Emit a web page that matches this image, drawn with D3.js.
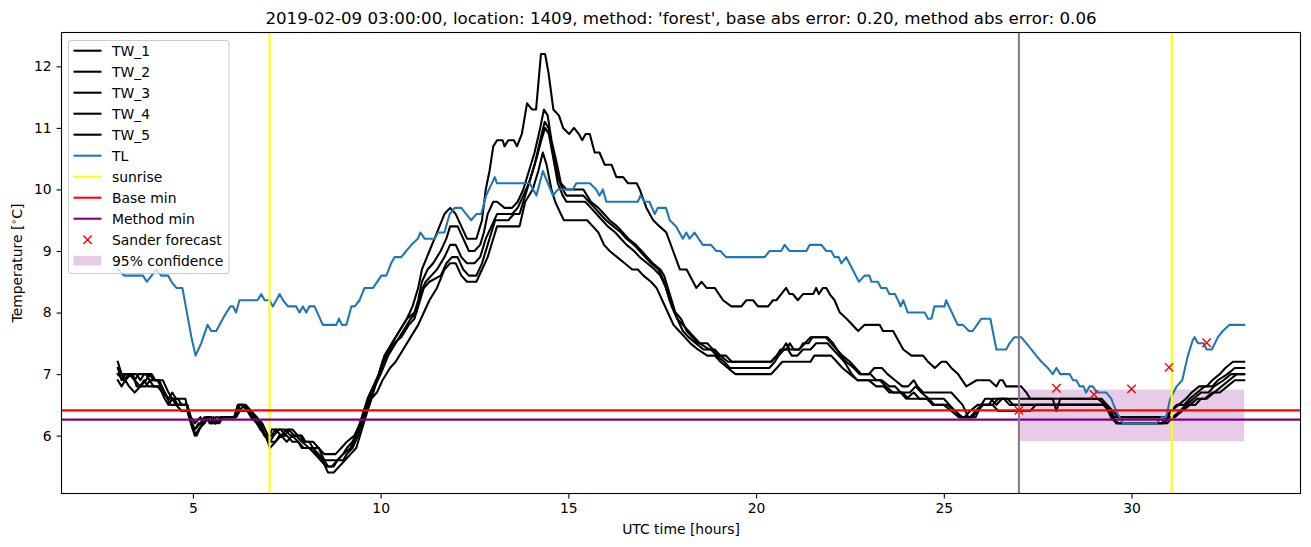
<!DOCTYPE html>
<html>
<head>
<meta charset="utf-8">
<script src="https://cdn.jsdelivr.net/npm/d3@7/dist/d3.min.js"></script>
<style>
  html, body { margin: 0; padding: 0; background: #fff; }
  svg { display: block; font-family: "DejaVu Sans", sans-serif; }
</style>
</head>
<body>
<svg id="chart" width="1311" height="547"></svg>
<script>
// ---------------- DATA ----------------
const titleText = "2019-02-09 03:00:00, location: 1409, method: 'forest', base abs error: 0.20, method abs error: 0.06";
const xTicks = [5, 10, 15, 20, 25, 30];
const yTicks = [6, 7, 8, 9, 10, 11, 12];
const seriesNames = ["TW_1", "TW_2", "TW_3", "TW_4", "TW_5"];

const tw1 = [[3.0,7.1],[3.1,6.9],[3.2,7.0],[3.4,7.0],[3.5,6.8],[3.6,6.8],[3.7,6.9],[3.8,6.8],[4.05,6.8],[4.2,6.7],[4.35,6.6],[4.5,6.6],[4.6,6.5],[4.85,6.5],[4.95,6.2],[5.05,6.1],[5.15,6.2],[5.3,6.2],[5.4,6.3],[5.5,6.3],[5.6,6.2],[5.75,6.3],[6.15,6.3],[6.25,6.5],[6.4,6.5],[6.55,6.4],[6.65,6.3],[6.8,6.1],[6.95,6.0],[7.05,5.8],[7.2,5.9],[7.35,6.0],[7.5,5.9],[7.65,6.0],[7.8,5.9],[7.9,5.8],[8.1,5.8],[8.25,5.7],[8.4,5.6],[8.55,5.5],[8.7,5.5],[8.85,5.6],[9.0,5.7],[9.2,5.8],[9.35,6.0],[9.5,6.3],[9.65,6.6],[9.8,6.8],[9.95,7.0],[10.1,7.3],[10.3,7.5],[10.5,7.7],[10.7,7.9],[10.85,8.1],[11.0,8.4],[11.1,8.7],[11.3,9.0],[11.5,9.3],[11.7,9.6],[11.85,9.7],[12.0,9.6],[12.15,9.4],[12.3,9.2],[12.55,9.2],[12.7,9.5],[12.8,10.0],[12.9,10.3],[13.0,10.7],[13.1,10.8],[13.25,10.8],[13.3,10.7],[13.4,10.8],[13.55,10.8],[13.63,10.7],[13.76,10.9],[13.9,11.4],[14.03,11.3],[14.14,11.3],[14.27,12.2],[14.38,12.2],[14.47,11.9],[14.6,11.3],[14.75,11.2],[14.86,11.0],[15.02,10.9],[15.15,11.0],[15.28,10.9],[15.37,10.8],[15.46,10.9],[15.57,10.9],[15.7,10.6],[15.83,10.6],[15.97,10.4],[16.15,10.4],[16.28,10.2],[16.46,10.2],[16.59,10.1],[16.82,10.1],[16.9,10.0],[17.08,9.7],[17.26,9.5],[17.43,9.4],[17.61,9.3],[17.79,9.0],[17.97,8.7],[18.15,8.7],[18.41,8.4],[18.55,8.5],[18.68,8.4],[18.9,8.4],[19.12,8.2],[19.34,8.1],[19.61,8.1],[19.74,8.2],[19.92,8.2],[20.05,8.1],[20.32,8.1],[20.45,8.2],[20.54,8.2],[20.67,8.3],[20.8,8.4],[20.89,8.3],[20.98,8.3],[21.11,8.2],[21.25,8.3],[21.52,8.3],[21.6,8.4],[21.67,8.3],[21.78,8.4],[21.87,8.4],[21.96,8.3],[22.09,8.2],[22.23,8.0],[22.41,7.9],[22.72,7.7],[22.89,7.8],[23.29,7.8],[23.38,7.7],[23.65,7.7],[23.74,7.6],[23.92,7.4],[24.14,7.3],[24.45,7.3],[24.58,7.2],[24.76,7.1],[24.94,7.2],[25.07,7.2],[25.2,7.1],[25.38,7.0],[25.6,6.8],[25.87,6.9],[26.22,6.9],[26.4,6.8],[26.49,6.9],[26.57,6.9],[26.66,6.8],[27.06,6.8],[27.2,6.7],[27.3,6.6],[29.2,6.6],[29.35,6.5],[29.5,6.4],[29.65,6.3],[30.9,6.3],[31.05,6.4],[31.25,6.5],[31.45,6.6],[31.6,6.7],[31.8,6.8],[32.0,6.8],[32.15,6.9],[32.35,7.0],[32.5,7.1],[32.7,7.2],[33.0,7.2]];

const tw2 = [[3.0,7.0],[3.15,7.0],[3.35,7.0],[3.45,6.9],[3.55,7.0],[3.75,7.0],[3.85,6.9],[4.05,6.9],[4.15,6.8],[4.35,6.6],[4.45,6.7],[4.55,6.6],[4.8,6.6],[4.9,6.3],[5.05,6.1],[5.2,6.2],[5.3,6.3],[5.4,6.3],[5.5,6.2],[5.6,6.3],[6.1,6.3],[6.2,6.5],[6.35,6.5],[6.5,6.4],[6.7,6.3],[6.8,6.2],[7.0,5.9],[7.1,6.1],[7.35,6.1],[7.45,6.0],[7.55,6.1],[7.7,6.0],[7.85,6.0],[7.95,5.9],[8.1,5.9],[8.2,5.8],[8.35,5.8],[8.5,5.6],[8.85,5.6],[9.0,5.7],[9.1,5.8],[9.25,5.9],[9.4,6.1],[9.55,6.4],[9.7,6.6],[9.9,6.9],[10.05,7.2],[10.3,7.5],[10.5,7.7],[10.7,7.9],[10.9,8.0],[11.0,8.2],[11.1,8.5],[11.25,8.7],[11.4,8.8],[11.6,9.0],[11.75,9.2],[11.85,9.4],[12.05,9.4],[12.2,9.2],[12.35,9.0],[12.5,9.0],[12.65,9.1],[12.75,9.3],[12.85,9.6],[13.0,9.8],[13.1,9.8],[13.3,9.7],[13.5,9.7],[13.65,9.8],[13.8,10.0],[13.95,10.3],[14.1,10.6],[14.25,11.0],[14.35,11.3],[14.45,11.2],[14.55,10.8],[14.7,10.4],[14.8,10.1],[14.95,10.0],[15.4,10.0],[15.6,9.8],[15.8,9.7],[15.95,9.6],[16.1,9.5],[16.3,9.4],[16.45,9.3],[16.6,9.2],[16.8,9.1],[16.95,9.0],[17.1,8.9],[17.25,8.8],[17.45,8.7],[17.55,8.6],[17.7,8.3],[17.85,8.0],[18.0,7.9],[18.15,7.7],[18.3,7.6],[18.45,7.5],[18.7,7.5],[18.85,7.4],[19.0,7.3],[19.2,7.3],[19.35,7.2],[20.4,7.2],[20.55,7.3],[20.7,7.4],[20.8,7.5],[20.9,7.4],[21.15,7.4],[21.3,7.5],[21.45,7.6],[21.85,7.6],[22.0,7.5],[22.15,7.4],[22.3,7.3],[22.5,7.2],[22.65,7.1],[22.8,7.0],[23.0,7.0],[23.15,7.1],[23.35,7.1],[23.5,7.0],[23.7,6.9],[23.9,6.8],[24.05,6.8],[24.2,6.9],[24.3,6.8],[24.45,6.7],[25.2,6.7],[25.35,6.6],[25.5,6.5],[25.65,6.3],[25.85,6.3],[26.0,6.5],[26.1,6.6],[26.25,6.6],[26.4,6.5],[26.55,6.6],[27.9,6.6],[28.0,6.4],[28.1,6.6],[29.1,6.6],[29.3,6.5],[29.45,6.4],[29.6,6.2],[30.9,6.2],[31.05,6.4],[31.2,6.5],[31.4,6.5],[31.55,6.6],[31.75,6.7],[31.95,6.8],[32.15,6.8],[32.3,6.9],[32.55,7.0],[32.75,7.1],[33.0,7.1]];

const tw3 = [[3.0,6.9],[3.1,6.8],[3.2,6.9],[3.3,6.8],[3.45,6.7],[3.6,6.8],[3.75,6.8],[3.85,6.9],[3.95,6.8],[4.1,6.8],[4.25,6.6],[4.35,6.5],[4.45,6.6],[4.55,6.5],[4.85,6.5],[4.95,6.2],[5.05,6.0],[5.15,6.1],[5.3,6.2],[5.4,6.3],[5.5,6.2],[5.65,6.2],[5.8,6.3],[6.15,6.3],[6.25,6.4],[6.45,6.4],[6.55,6.3],[6.7,6.2],[6.8,6.1],[6.95,6.0],[7.05,5.9],[7.2,5.9],[7.3,6.0],[7.5,6.0],[7.65,5.9],[7.8,5.9],[7.95,5.8],[8.2,5.8],[8.35,5.7],[8.5,5.6],[8.6,5.5],[8.75,5.5],[8.85,5.6],[9.0,5.6],[9.1,5.7],[9.25,5.8],[9.4,6.0],[9.55,6.3],[9.7,6.5],[9.85,6.8],[10.0,7.0],[10.2,7.3],[10.4,7.5],[10.6,7.7],[10.8,7.9],[10.95,8.0],[11.05,8.3],[11.2,8.5],[11.35,8.6],[11.5,8.7],[11.7,8.9],[11.85,9.1],[12.0,9.1],[12.15,8.9],[12.3,8.8],[12.5,8.8],[12.65,8.9],[12.8,9.2],[12.95,9.4],[13.1,9.6],[13.5,9.6],[13.65,9.7],[13.8,9.9],[13.95,10.1],[14.1,10.4],[14.25,10.8],[14.37,11.1],[14.47,11.0],[14.6,10.6],[14.72,10.2],[14.85,10.0],[14.95,9.9],[15.4,9.9],[15.55,9.8],[15.7,9.7],[15.85,9.6],[16.0,9.5],[16.2,9.4],[16.4,9.3],[16.55,9.2],[16.75,9.1],[16.9,9.0],[17.05,8.9],[17.2,8.8],[17.4,8.7],[17.55,8.5],[17.7,8.2],[17.9,7.9],[18.05,7.8],[18.2,7.7],[18.35,7.6],[18.5,7.5],[18.75,7.4],[18.9,7.4],[19.05,7.3],[19.25,7.2],[20.4,7.2],[20.55,7.3],[20.65,7.4],[20.8,7.4],[20.9,7.5],[21.0,7.4],[21.15,7.4],[21.25,7.5],[21.4,7.5],[21.5,7.6],[21.9,7.6],[22.05,7.5],[22.25,7.3],[22.4,7.2],[22.6,7.1],[22.75,7.0],[23.05,7.0],[23.2,6.9],[23.35,6.9],[23.55,6.8],[23.7,6.8],[23.85,6.7],[24.1,6.7],[24.25,6.8],[24.4,6.7],[24.6,6.6],[25.0,6.6],[25.15,6.5],[25.3,6.4],[25.5,6.3],[25.7,6.3],[25.85,6.4],[26.0,6.5],[26.2,6.5],[26.3,6.6],[26.7,6.6],[26.85,6.5],[29.3,6.5],[29.45,6.3],[29.6,6.2],[30.95,6.2],[31.1,6.3],[31.3,6.4],[31.45,6.5],[31.65,6.6],[31.85,6.7],[32.05,6.7],[32.2,6.8],[32.45,6.9],[32.65,7.0],[33.0,7.0]];

const tw4 = [[3.0,7.0],[3.15,6.9],[3.3,7.0],[3.45,6.9],[3.6,6.8],[3.75,6.9],[3.85,7.0],[3.95,6.9],[4.1,6.9],[4.25,6.7],[4.4,6.5],[4.55,6.5],[4.7,6.4],[4.85,6.4],[5.0,6.1],[5.1,6.0],[5.25,6.2],[5.35,6.3],[5.45,6.2],[5.55,6.3],[5.7,6.2],[5.8,6.3],[6.1,6.3],[6.2,6.5],[6.3,6.5],[6.45,6.4],[6.6,6.3],[6.75,6.2],[6.9,6.0],[7.05,5.9],[7.15,6.0],[7.3,6.1],[7.45,6.1],[7.6,6.0],[7.75,6.0],[7.9,5.9],[8.1,5.8],[8.3,5.7],[8.45,5.6],[8.6,5.4],[8.75,5.4],[8.9,5.5],[9.05,5.6],[9.2,5.7],[9.35,5.8],[9.5,6.1],[9.65,6.4],[9.8,6.7],[9.95,7.0],[10.15,7.3],[10.35,7.5],[10.55,7.6],[10.75,7.8],[10.9,7.9],[11.0,8.1],[11.15,8.4],[11.3,8.5],[11.6,8.6],[11.75,8.8],[11.9,8.9],[12.05,8.9],[12.2,8.7],[12.35,8.6],[12.55,8.6],[12.7,8.8],[12.85,9.1],[12.95,9.3],[13.05,9.5],[13.4,9.5],[13.55,9.6],[13.7,9.6],[13.85,9.9],[14.0,10.2],[14.15,10.5],[14.28,10.8],[14.38,11.0],[14.48,10.9],[14.6,10.5],[14.72,10.1],[14.85,9.9],[14.95,9.8],[15.45,9.8],[15.6,9.7],[15.75,9.6],[15.9,9.5],[16.05,9.4],[16.25,9.3],[16.4,9.2],[16.55,9.1],[16.75,9.0],[16.9,8.9],[17.1,8.8],[17.3,8.7],[17.45,8.6],[17.6,8.4],[17.75,8.1],[17.9,7.9],[18.05,7.7],[18.2,7.6],[18.4,7.5],[18.6,7.4],[18.8,7.4],[18.95,7.3],[19.15,7.2],[19.3,7.1],[20.35,7.1],[20.5,7.2],[20.6,7.3],[20.75,7.4],[20.85,7.4],[20.95,7.3],[21.1,7.3],[21.25,7.4],[21.45,7.4],[21.6,7.5],[21.9,7.5],[22.05,7.4],[22.2,7.3],[22.35,7.2],[22.55,7.0],[22.7,6.9],[23.3,6.9],[23.45,6.8],[23.65,6.7],[23.85,6.7],[24.0,6.6],[24.2,6.7],[24.35,6.6],[24.55,6.6],[24.7,6.5],[25.0,6.5],[25.2,6.4],[25.4,6.3],[25.55,6.3],[25.7,6.4],[25.9,6.5],[26.3,6.5],[26.45,6.4],[27.3,6.4],[27.45,6.5],[29.25,6.5],[29.4,6.4],[29.55,6.3],[31.1,6.3],[31.3,6.4],[31.45,6.5],[31.7,6.5],[31.85,6.6],[32.0,6.6],[32.2,6.7],[32.4,6.8],[32.6,6.9],[32.8,7.0],[33.0,7.0]];

const tw5 = [[3.0,7.2],[3.1,7.0],[3.2,6.9],[3.35,7.0],[3.5,7.0],[3.6,6.9],[3.7,7.0],[3.9,7.0],[4.0,6.9],[4.2,6.9],[4.35,6.7],[4.45,6.6],[4.6,6.6],[4.7,6.5],[4.85,6.5],[4.95,6.3],[5.05,6.2],[5.2,6.3],[5.3,6.2],[5.4,6.3],[5.5,6.3],[5.6,6.2],[5.75,6.3],[6.1,6.3],[6.2,6.4],[6.4,6.5],[6.55,6.4],[6.7,6.3],[6.85,6.2],[7.0,6.0],[7.1,6.0],[7.2,6.1],[7.35,6.0],[7.5,6.1],[7.65,6.1],[7.8,6.0],[7.9,6.0],[8.0,5.9],[8.2,5.9],[8.35,5.8],[8.5,5.7],[8.8,5.7],[8.95,5.8],[9.1,5.9],[9.3,6.0],[9.45,6.2],[9.6,6.4],[9.75,6.6],[9.9,6.7],[10.05,6.9],[10.25,7.1],[10.4,7.2],[10.6,7.4],[10.8,7.6],[11.0,7.8],[11.15,8.0],[11.3,8.2],[11.5,8.4],[11.7,8.7],[11.85,8.8],[12.0,8.8],[12.15,8.6],[12.3,8.5],[12.55,8.5],[12.7,8.7],[12.85,8.9],[13.0,9.2],[13.1,9.4],[13.7,9.4],[13.85,9.8],[14.05,10.0],[14.2,10.3],[14.32,10.6],[14.42,10.4],[14.55,10.0],[14.65,9.8],[14.8,9.6],[14.88,9.5],[15.5,9.5],[15.65,9.4],[15.8,9.3],[15.95,9.1],[16.1,9.0],[16.3,8.9],[16.5,8.8],[16.7,8.7],[16.85,8.7],[17.0,8.6],[17.2,8.5],[17.35,8.4],[17.5,8.2],[17.65,8.0],[17.8,7.8],[17.95,7.7],[18.1,7.6],[18.25,7.5],[18.45,7.4],[18.7,7.3],[18.9,7.3],[19.05,7.2],[19.25,7.1],[19.45,7.0],[20.4,7.0],[20.55,7.1],[20.7,7.2],[21.45,7.2],[21.55,7.3],[22.0,7.3],[22.15,7.2],[22.3,7.1],[22.5,7.0],[22.7,6.9],[23.0,6.9],[23.2,6.8],[23.4,6.8],[23.55,6.7],[23.9,6.7],[24.05,6.6],[24.6,6.6],[24.75,6.5],[25.1,6.5],[25.3,6.4],[25.45,6.3],[25.75,6.3],[25.9,6.4],[26.05,6.5],[26.3,6.5],[26.45,6.6],[26.6,6.6],[26.75,6.5],[29.3,6.5],[29.5,6.3],[29.65,6.2],[30.8,6.2],[30.95,6.3],[31.15,6.3],[31.35,6.4],[31.55,6.5],[31.75,6.6],[31.95,6.6],[32.15,6.7],[32.35,6.7],[32.55,6.8],[32.75,6.9],[33.0,6.9]];

const tl = [[3.0,8.7],[3.17,8.6],[3.67,8.6],[3.77,8.5],[3.9,8.6],[4.03,8.7],[4.16,8.6],[4.34,8.6],[4.43,8.5],[4.56,8.4],[4.72,8.4],[4.87,7.9],[4.96,7.6],[5.07,7.3],[5.22,7.5],[5.39,7.8],[5.49,7.7],[5.62,7.7],[5.71,7.8],[5.89,8.0],[6.0,8.1],[6.07,8.1],[6.15,8.0],[6.24,8.2],[6.72,8.2],[6.82,8.3],[6.91,8.2],[7.04,8.2],[7.13,8.1],[7.31,8.3],[7.4,8.2],[7.53,8.1],[7.75,8.1],[7.84,8.0],[7.93,8.1],[8.02,8.0],[8.1,8.1],[8.24,8.1],[8.46,7.8],[8.82,7.8],[8.89,7.9],[8.97,7.8],[9.09,7.8],[9.22,8.1],[9.31,8.1],[9.44,8.2],[9.57,8.4],[9.8,8.4],[10.02,8.6],[10.15,8.6],[10.28,8.8],[10.37,8.9],[10.55,8.9],[10.68,9.0],[10.82,9.1],[10.99,9.2],[11.06,9.3],[11.17,9.2],[11.44,9.2],[11.53,9.3],[11.7,9.3],[11.79,9.5],[11.84,9.6],[11.97,9.7],[12.15,9.7],[12.28,9.6],[12.41,9.5],[12.55,9.6],[12.68,9.6],[12.81,9.9],[13.04,10.2],[13.1,10.1],[13.97,10.1],[14.15,9.9],[14.32,10.3],[14.59,9.9],[14.72,10.0],[15.12,10.0],[15.21,10.1],[15.57,10.1],[15.74,10.0],[15.83,9.9],[15.92,10.0],[16.01,9.8],[16.85,9.8],[16.92,9.9],[17.03,9.8],[17.16,9.8],[17.3,9.6],[17.38,9.7],[17.6,9.7],[17.7,9.5],[17.87,9.4],[18.05,9.2],[18.14,9.3],[18.23,9.2],[18.36,9.3],[18.58,9.1],[18.8,9.1],[18.94,9.0],[19.05,9.0],[19.2,8.9],[20.23,8.9],[20.36,9.0],[20.67,9.0],[20.76,9.1],[20.89,9.0],[21.34,9.0],[21.43,9.1],[21.74,9.1],[21.87,9.0],[22.0,9.0],[22.09,8.9],[22.2,8.9],[22.27,8.8],[22.4,8.9],[22.74,8.5],[22.89,8.6],[23.02,8.6],[23.07,8.5],[23.24,8.5],[23.33,8.4],[23.47,8.4],[23.55,8.3],[23.7,8.3],[23.78,8.2],[23.85,8.1],[23.92,8.2],[24.04,8.0],[24.49,8.0],[24.58,7.9],[24.67,7.9],[24.75,8.1],[25.02,8.1],[25.06,8.2],[25.37,7.8],[25.51,7.8],[25.67,7.7],[25.77,7.7],[26.0,7.9],[26.24,7.9],[26.4,7.4],[26.66,7.4],[26.75,7.5],[26.88,7.6],[27.06,7.6],[27.2,7.5],[27.33,7.4],[27.46,7.3],[27.6,7.2],[27.77,7.1],[27.9,7.0],[28.0,7.1],[28.1,7.0],[28.35,7.0],[28.44,6.9],[28.53,6.9],[28.62,6.8],[28.72,6.8],[28.79,6.7],[28.88,6.8],[28.97,6.8],[29.08,6.7],[29.33,6.7],[29.46,6.6],[29.59,6.4],[29.77,6.2],[30.66,6.2],[30.8,6.3],[30.92,6.3],[31.03,6.6],[31.2,6.8],[31.35,6.9],[31.5,7.3],[31.63,7.55],[31.68,7.6],[31.77,7.5],[31.92,7.5],[32.0,7.4],[32.14,7.4],[32.3,7.6],[32.43,7.7],[32.61,7.8],[33.0,7.8]];

const sunriseHours = [7.04, 31.07];
const forecastStart = 27;
const baseMin = 6.41;
const methodMin = 6.26;
const sanderHours = [27, 28, 29, 30, 31, 32];
const sanderValues = [6.41, 6.77, 6.67, 6.76, 7.11, 7.51];
const confHours = [27, 33];
const confLower = [5.91, 5.91];
const confUpper = [6.75, 6.75];

const legendLabels = ["TW_1","TW_2","TW_3","TW_4","TW_5","TL","sunrise","Base min","Method min","Sander forecast","95% confidence"];

// ---------------- LAYOUT ----------------
const svg = d3.select("#chart");
const L = 61.5, R = 1300.5, T = 32.5, B = 493.5;
const x = d3.scaleLinear().domain([1.5, 34.5]).range([L, R]);
const y = d3.scaleLinear().domain([5.06, 12.55]).range([B, T]);
const LW = 2.08, FS = 13.9;

const C = {
  tw: "#000000", tl: "#1f77b4", sunrise: "#ffff00", base: "#ff0000",
  method: "#800080", sander: "#ff0000", conf: "#800080", grey: "#808080"
};

svg.append("rect").attr("width", 1311).attr("height", 547).attr("fill", "#fff");

svg.append("defs").append("clipPath").attr("id", "clip")
  .append("rect").attr("x", L).attr("y", T).attr("width", R - L).attr("height", B - T);

const plot = svg.append("g").attr("clip-path", "url(#clip)");

// confidence band
const area = d3.area().x((d, i) => x(confHours[i])).y0((d, i) => y(confLower[i])).y1((d, i) => y(confUpper[i]));
plot.append("path").datum(confHours).attr("d", area)
  .attr("fill", C.conf).attr("fill-opacity", 0.2);

const line = d3.line().x(d => x(d[0])).y(d => y(d[1]));
[tw1, tw2, tw3, tw4, tw5].forEach(s => {
  plot.append("path").datum(s).attr("d", line)
    .attr("fill", "none").attr("stroke", C.tw).attr("stroke-width", LW)
    .attr("stroke-linejoin", "round").attr("stroke-linecap", "square");
});
plot.append("path").datum(tl).attr("d", line)
  .attr("fill", "none").attr("stroke", C.tl).attr("stroke-width", LW)
  .attr("stroke-linejoin", "round").attr("stroke-linecap", "square");

// sunrise lines
sunriseHours.forEach(h => {
  plot.append("line").attr("x1", x(h)).attr("x2", x(h)).attr("y1", T).attr("y2", B)
    .attr("stroke", C.sunrise).attr("stroke-width", LW);
});
// horizontal lines
plot.append("line").attr("x1", L).attr("x2", R).attr("y1", y(baseMin)).attr("y2", y(baseMin))
  .attr("stroke", C.base).attr("stroke-width", LW);
plot.append("line").attr("x1", L).attr("x2", R).attr("y1", y(methodMin)).attr("y2", y(methodMin))
  .attr("stroke", C.method).attr("stroke-width", LW);
// forecast start line
plot.append("line").attr("x1", x(forecastStart)).attr("x2", x(forecastStart)).attr("y1", T).attr("y2", B)
  .attr("stroke", C.grey).attr("stroke-width", LW);

// Sander forecast markers
const ms = 4.2;
sanderHours.forEach((h, i) => {
  const cx = x(h), cy = y(sanderValues[i]);
  plot.append("path").attr("d", `M${cx-ms},${cy-ms}L${cx+ms},${cy+ms}M${cx-ms},${cy+ms}L${cx+ms},${cy-ms}`)
    .attr("stroke", C.sander).attr("stroke-width", 1.4).attr("fill", "none");
});

// frame
svg.append("rect").attr("x", L).attr("y", T).attr("width", R - L).attr("height", B - T)
  .attr("fill", "none").attr("stroke", "#000").attr("stroke-width", 1.1);

// axes
const xAxis = svg.append("g").attr("transform", `translate(0,${B})`)
  .call(d3.axisBottom(x).tickValues(xTicks).tickSize(4.9).tickPadding(4.9).tickFormat(d3.format("d")));
const yAxis = svg.append("g").attr("transform", `translate(${L},0)`)
  .call(d3.axisLeft(y).tickValues(yTicks).tickSize(4.9).tickPadding(4.9).tickFormat(d3.format("d")));
[xAxis, yAxis].forEach(a => {
  a.select(".domain").remove();
  a.selectAll("text").attr("font-family", "DejaVu Sans").attr("font-size", FS).attr("fill", "#000");
  a.selectAll("line").attr("stroke", "#000").attr("stroke-width", 1.1);
});

// title and labels
svg.append("text").attr("x", (L + R) / 2).attr("y", 23.5).attr("text-anchor", "middle")
  .attr("font-size", 16.67).attr("fill", "#000").text(titleText);
svg.append("text").attr("x", (L + R) / 2).attr("y", 534).attr("text-anchor", "middle")
  .attr("font-size", FS).attr("fill", "#000").text("UTC time [hours]");
const yl = svg.append("text").attr("transform", `translate(22,${(T + B) / 2}) rotate(-90)`)
  .attr("text-anchor", "middle").attr("font-size", FS).attr("fill", "#000");
yl.append("tspan").text("Temperature [");
yl.append("tspan").attr("font-size", 9.5).attr("dy", -5).text("\u2218");
yl.append("tspan").attr("dy", 5).text("C]");

// legend
const lg = svg.append("g");
lg.append("rect").attr("x", 68.5).attr("y", 40.5).attr("width", 160.5).attr("height", 233)
  .attr("rx", 3).attr("fill", "#fff").attr("fill-opacity", 0.8).attr("stroke", "#cccccc").attr("stroke-width", 1.1);
const rowH = 21.0, row0 = 50.7, hx0 = 73.5, hx1 = 101.5, tx = 112;
const legendColors = [C.tw, C.tw, C.tw, C.tw, C.tw, C.tl, C.sunrise, C.base, C.method];
legendLabels.forEach((lab, i) => {
  const cy = row0 + i * rowH;
  if (i < 9) {
    lg.append("line").attr("x1", hx0).attr("x2", hx1).attr("y1", cy).attr("y2", cy)
      .attr("stroke", legendColors[i]).attr("stroke-width", LW);
  } else if (i === 9) {
    const cx = (hx0 + hx1) / 2;
    lg.append("path").attr("d", `M${cx-ms},${cy-ms}L${cx+ms},${cy+ms}M${cx-ms},${cy+ms}L${cx+ms},${cy-ms}`)
      .attr("stroke", C.sander).attr("stroke-width", 1.4);
  } else {
    lg.append("rect").attr("x", hx0).attr("y", cy - 4.9).attr("width", hx1 - hx0).attr("height", 9.7)
      .attr("fill", C.conf).attr("fill-opacity", 0.2);
  }
  lg.append("text").attr("x", tx).attr("y", cy + 5).attr("font-size", FS).attr("fill", "#000").text(lab);
});
</script>
</body>
</html>
